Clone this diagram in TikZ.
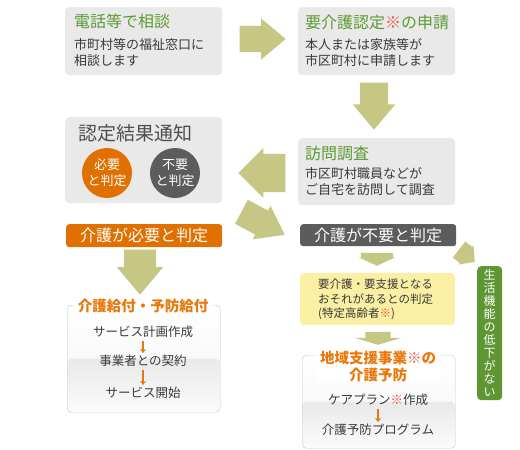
\documentclass[tikz,border=0pt]{standalone}
\usepackage{fontspec}
\setmainfont{Noto Sans CJK JP}
\usepackage{xcolor}
\usetikzlibrary{positioning,arrows.meta,shapes.arrows}
\definecolor{kaigoolive}{HTML}{C7C785}
\definecolor{kaigogreen}{HTML}{5C9B32}
\definecolor{kaigoleaf}{HTML}{5E9632}
\definecolor{kaigoorange}{HTML}{E07000}
\definecolor{kaigoamber}{HTML}{E8780A}
\definecolor{kaigodark}{HTML}{5C5C5C}
\definecolor{kaigogray}{HTML}{E9E9E9}
\definecolor{kaigoyellow}{HTML}{FBEFA3}
\definecolor{kaigored}{HTML}{F0503C}
\definecolor{kaigoink}{HTML}{3A3A3A}
\newcommand\kome{\textcolor{kaigored}{※}}
\tikzset{
    kaigocard/.style={fill=kaigogray, rounded corners=4pt, anchor=north west, inner sep=0pt},
    kaigotitle/.style={anchor=west, inner sep=0pt, text=kaigogreen, font=\fontsize{16}{18}\selectfont},
    kaigotext/.style={anchor=west, inner sep=0pt, align=left, text=kaigoink, font=\fontsize{13}{16}\selectfont},
    kaigobar/.style={rounded corners=3pt, anchor=north west, inner sep=0pt, text=white, font=\fontsize{16}{18}\selectfont},
    kaigocircle/.style={circle, minimum size=50pt, inner sep=0pt, align=center, text=white, font=\fontsize{13}{16}\selectfont},
    kaigogloss/.style={draw=gray!45, rounded corners=4pt, anchor=north west, inner sep=0pt, fill=white, path picture={
        \shade[top color=white, bottom color=gray!9] (path picture bounding box.north west) rectangle (path picture bounding box.east);
        \shade[top color=gray!17, bottom color=gray!3] (path picture bounding box.west) rectangle (path picture bounding box.south east);
    }},
    kaigohead/.style={fill=white, inner xsep=3pt, inner ysep=0pt, align=center, text=kaigoamber, font=\fontsize{14.5}{17}\selectfont\bfseries},
    kaigoitem/.style={inner sep=0pt, text=kaigoink, font=\fontsize{12.5}{15}\selectfont},
    kaigostep/.style={draw=kaigoamber, line width=1.3pt, -{Stealth[length=4pt, width=6pt]}, shorten <=3pt, shorten >=2pt},
    kaigoarrow/.style 2 args={single arrow, fill=kaigoolive, inner xsep=0pt, inner ysep=#1, anchor=tip, single arrow head extend=#2}
}

\begin{document}
\begin{tikzpicture}[x=1pt, y=-1pt]
    \useasboundingbox (0,0) rectangle (520,450);

    % Antrag
    \node[kaigocard, minimum width=157, minimum height=68] (soudan) at (65,7) {};
    \node[kaigotitle] (soudantitle) at (74,21) {電話等で相談};
    \node[kaigotext] (soudantext) at (74,52.5) {市町村等の福祉窓口に\\相談します};

    \node[kaigocard, minimum width=157, minimum height=68] (shinsei) at (298,7) {};
    \node[kaigotitle] (shinseititle) at (305,22) {要介護認定\kome{}の申請};
    \node[kaigotext] (shinseitext) at (305,52.5) {本人または家族等が\\市区町村に申請します};

    \node[kaigocard, minimum width=157, minimum height=67] (chousa) at (298,138) {};
    \node[kaigotitle] (chousatitle) at (305,153) {訪問調査};
    \node[kaigotext] (chousatext) at (305,182) {市区町村職員などが\\ご自宅を訪問して調査};

    \node[kaigocard, minimum width=157, minimum height=86] (kekka) at (65,117) {};
    \node[kaigotitle, text=kaigoink!90, font=\fontsize{19}{21}\selectfont] (kekkatitle) at (78,133) {認定結果通知};
    \node[kaigocircle, fill=kaigoorange] (hitsuyoumaru) at (107,173) {必要\\と判定};
    \node[kaigocircle, fill=kaigodark] (fuyoumaru) at (175,173) {不要\\と判定};

    % Pfeile
    \node[kaigoarrow={13pt}{7.5pt}, minimum height=46, single arrow tip angle=80] (pfeilA) at (286,39) {};
    \node[kaigoarrow={14pt}{7pt}, minimum height=47, single arrow tip angle=80, rotate=-90] (pfeilB) at (374,130) {};
    \node[kaigoarrow={19pt}{6pt}, minimum height=47, single arrow tip angle=90, rotate=180] (pfeilC) at (238,173) {};
    \node[kaigoarrow={13.4pt}{5.4pt}, minimum height=49, single arrow tip angle=72, rotate=-28] (pfeilD) at (285,235) {};
    \node[kaigoarrow={16pt}{7pt}, minimum height=45, single arrow tip angle=80, rotate=-90] (pfeilE) at (140,295) {};
    \node[kaigoarrow={16pt}{2pt}, minimum height=13, single arrow tip angle=130, rotate=-90] (pfeilF) at (377,266) {};
    \node[kaigoarrow={12.5pt}{11pt}, minimum height=13, single arrow tip angle=147, rotate=-90] (pfeilG) at (378,345) {};
    \node[kaigoarrow={10pt}{2pt}, minimum height=20, single arrow tip angle=95, rotate=-38] (pfeilH) at (475,262) {};

    % Ergebnis
    \node[kaigobar, fill=kaigoorange, minimum width=156, minimum height=23] (hitsuyoubar) at (66,224) {介護が必要と判定};
    \node[kaigobar, fill=kaigodark, minimum width=156, minimum height=22] (fuyoubar) at (300,224) {介護が不要と判定};

    \node[kaigocard, fill=kaigoyellow, minimum width=155, minimum height=52] (tokutei) at (300,273) {};
    \node[kaigotext, font=\fontsize{11.5}{14.5}\selectfont] (tokuteitext) at (318,299.5) {要介護・要支援となる\\おそれがあるとの判定\\(特定高齢者\kome)};

    \node[kaigocard, fill=kaigoleaf, minimum width=25, minimum height=134] (teika) at (477,266) {};
    \node[inner sep=0pt, align=center, text=white, font=\fontsize{12}{13}\selectfont] (teikatext) at (489.5,333.5) {生\\活\\機\\能\\の\\低\\下\\が\\な\\い};

    % Leistungen
    \node[kaigogloss, minimum width=153, minimum height=107] (kyufu) at (67,305) {};
    \node[kaigohead] (kyufutitle) at (143,306) {介護給付・予防給付};
    \node[kaigoitem] (plan) at (143,332) {サービス計画作成};
    \node[kaigoitem] (keiyaku) at (143,361) {事業者との契約};
    \node[kaigoitem] (kaishi) at (143,393) {サービス開始};
    \draw[kaigostep] (plan) -- (keiyaku);
    \draw[kaigostep] (keiyaku) -- (kaishi);

    \node[kaigogloss, minimum width=153, minimum height=93] (yobou) at (302,355) {};
    \node[kaigohead] (yoboutitle) at (378,366.5) {地域支援事業\kome の\\介護予防};
    \node[kaigoitem] (careplan) at (378,400) {ケアプラン\kome 作成};
    \node[kaigoitem] (program) at (378,430) {介護予防プログラム};
    \draw[kaigostep] (careplan) -- (program);
\end{tikzpicture}
\end{document}
